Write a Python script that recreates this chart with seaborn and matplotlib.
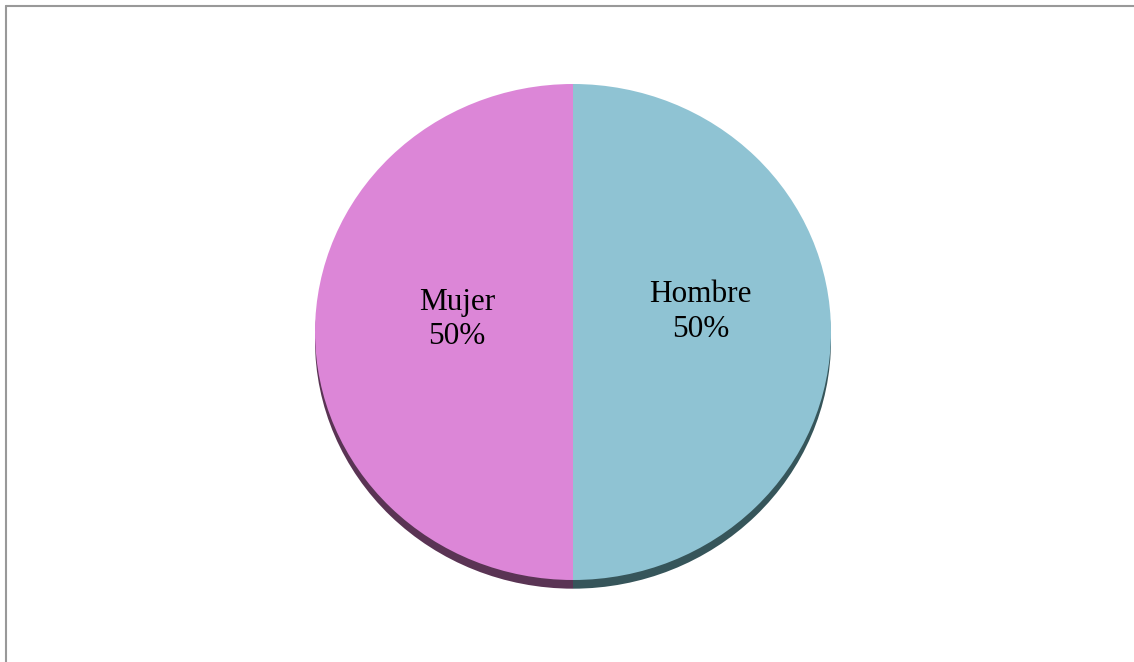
import matplotlib
matplotlib.use("Agg")
import matplotlib.pyplot as plt
import seaborn as sns
import numpy as np

categories = ["Hombre", "Mujer"]
values = [50, 50]
colors = ["#8fc3d3", "#dc86d7"]
shadow_colors = ["#36555a", "#5a3454"]

sns.set_theme(style="white")
plt.rcParams["font.family"] = ["Liberation Serif", "DejaVu Serif"]

W, H = 1134, 662
fig = plt.figure(figsize=(W / 100, H / 100), dpi=100)
ax = fig.add_axes([0, 0, 1, 1])

cx, cy = 573, 332
rx, ry = 258, 248

# shadow
ax.pie(values, colors=shadow_colors, startangle=90, counterclock=False,
       center=(0, -0.035), radius=1.0, wedgeprops=dict(linewidth=0))
wedges, texts = ax.pie(values, colors=colors, startangle=90, counterclock=False,
                       labels=[f"{c}\n{v}%" for c, v in zip(categories, values)],
                       labeldistance=0.47,
                       textprops=dict(fontsize=22.5, color="black", ha="center", va="center",
                                      linespacing=1.25),
                       wedgeprops=dict(linewidth=0))
for t in texts:
    x, y = t.get_position()
    if x > 0:
        t.set_position((x + 0.025, y + 0.08))
    else:
        t.set_position((x + 0.02, y + 0.05))

ax.set_aspect("auto")
ax.set_xlim(-cx / rx, (W - cx) / rx)
ax.set_ylim(-(H - cy) / ry, cy / ry)
ax.axis("off")

# border lines (top and left)
fig.add_artist(plt.Line2D([6 / W, 1], [1 - 6 / H, 1 - 6 / H], color="#999999", lw=1.5,
                          transform=fig.transFigure))
fig.add_artist(plt.Line2D([6 / W, 6 / W], [0, 1 - 6 / H], color="#999999", lw=1.5,
                          transform=fig.transFigure))

fig.savefig("out.png", dpi=100, facecolor="white")
